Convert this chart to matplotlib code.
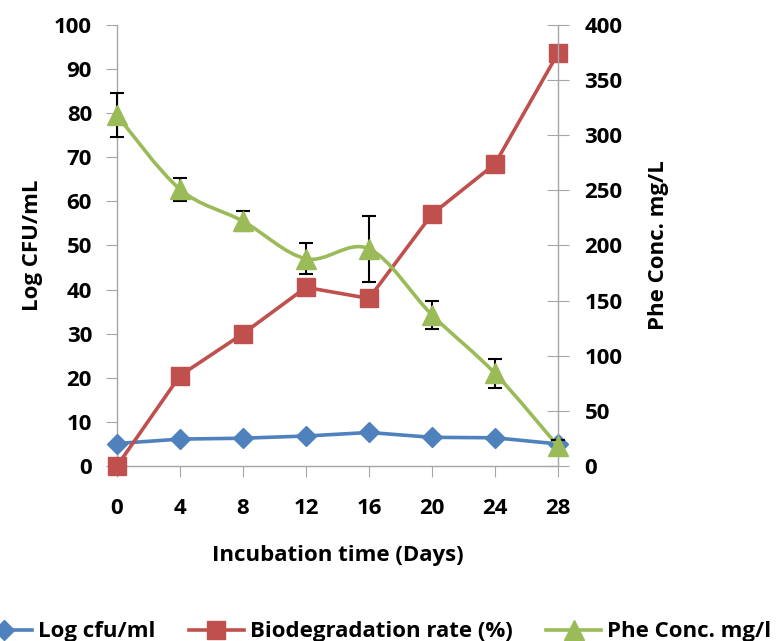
import numpy as np
import matplotlib
matplotlib.use("Agg")
import matplotlib.pyplot as plt
from matplotlib.path import Path
from matplotlib.patches import PathPatch
from matplotlib.lines import Line2D

# -----------------------------
# DATA
# -----------------------------
days = [0, 4, 8, 12, 16, 20, 24, 28]
log_cfu = [5.1, 6.1, 6.3, 6.8, 7.6, 6.5, 6.4, 5.0]
biodeg = [0, 20.5, 30, 40.5, 38, 57.1, 68.5, 93.6]
phe_conc = [318, 251, 222, 188, 197, 137, 84, 18]
phe_err = [20, 10.5, 9, 14, 30, 13, 13, 6]

BLUE = "#4F81BD"
RED = "#C0504D"
GREEN = "#9BBB59"
FS = 16
FW = "bold"

plt.rcParams["font.family"] = ["Open Sans", "DejaVu Sans"]
plt.rcParams["font.weight"] = FW

fig = plt.figure(figsize=(7.76, 6.41), dpi=100)
ax1 = fig.add_axes([117 / 776, 1 - 466 / 641, (558 - 117) / 776, (466 - 25) / 641])
ax2 = ax1.twinx()

# left axis series
ax1.plot(days, log_cfu, color=BLUE, lw=2.6, marker="D", ms=10, clip_on=False, zorder=3)
ax1.plot(days, biodeg, color=RED, lw=2.6, marker="s", ms=13, clip_on=False, zorder=3)


# smoothed line for the phe series (excel style curve through the points)
def smooth_path(xs, ys):
    pts = np.column_stack([xs, ys]).astype(float)
    verts = [pts[0]]
    codes = [Path.MOVETO]
    n = len(pts)
    for i in range(n - 1):
        p0 = pts[i - 1] if i > 0 else pts[i]
        p1 = pts[i]
        p2 = pts[i + 1]
        p3 = pts[i + 2] if i + 2 < n else pts[i + 1]
        c1 = p1 + (p2 - p0) / 6
        c2 = p2 - (p3 - p1) / 6
        verts += [c1, c2, p2]
        codes += [Path.CURVE4] * 3
    return Path(verts, codes)


ax2.add_patch(PathPatch(smooth_path(days, phe_conc), fill=False, edgecolor=GREEN,
                        lw=2.6, transform=ax2.transData, clip_on=False, zorder=2))
ax2.errorbar(days, phe_conc, yerr=phe_err, fmt="none", ecolor="black",
             elinewidth=1.5, capsize=5, capthick=1.5, zorder=3, clip_on=False)
ax2.plot(days, phe_conc, ls="none", marker="^", ms=14, color=GREEN,
         clip_on=False, zorder=4)

# axes setup
ax1.set_xlim(0, 28)
ax1.set_xticks(days)
ax1.set_ylim(0, 100)
ax1.set_yticks(range(0, 101, 10))
ax2.set_ylim(0, 400)
ax2.set_yticks(range(0, 401, 50))

for ax in (ax1, ax2):
    ax.spines["top"].set_visible(False)
    for s in ("left", "right", "bottom"):
        ax.spines[s].set_color("#A6A6A6")
        ax.spines[s].set_linewidth(1.0)
ax2.spines["left"].set_visible(False)
ax2.spines["bottom"].set_visible(False)
ax1.spines["right"].set_visible(False)

ax1.tick_params(axis="y", direction="out", length=8, color="#A6A6A6", labelsize=FS, pad=10)
ax1.tick_params(axis="x", direction="out", length=8, color="#A6A6A6", labelsize=FS, pad=15)
ax2.tick_params(axis="y", direction="inout", length=16, color="#A6A6A6", labelsize=FS, pad=11)

for lab in ax1.get_xticklabels() + ax1.get_yticklabels() + ax2.get_yticklabels():
    lab.set_fontweight(FW)

ax1.set_ylabel("Log CFU/mL", fontsize=FS, fontweight=FW, labelpad=8)
ax2.set_ylabel("Phe Conc. mg/L", fontsize=FS, fontweight=FW, labelpad=18)
ax1.set_xlabel("Incubation time (Days)", fontsize=FS, fontweight=FW, labelpad=19)

# legend at the bottom (cut off by the figure edges like the reference)
handles = [
    Line2D([], [], color=BLUE, lw=2.6, marker="D", ms=10),
    Line2D([], [], color=RED, lw=2.6, marker="s", ms=13),
    Line2D([], [], color=GREEN, lw=2.6, marker="^", ms=14),
]
labels = ["Log cfu/ml", "Biodegradation rate (%)", "Phe Conc. mg/l"]
fig.legend(handles, labels, loc="center left", bbox_to_anchor=(-0.03, 1 - 632 / 641),
           ncol=3, frameon=False, handlelength=2.5, handletextpad=0.25,
           columnspacing=1.5, borderaxespad=0, borderpad=0,
           prop={"weight": FW, "size": FS})

fig.savefig("out.png", dpi=100)
